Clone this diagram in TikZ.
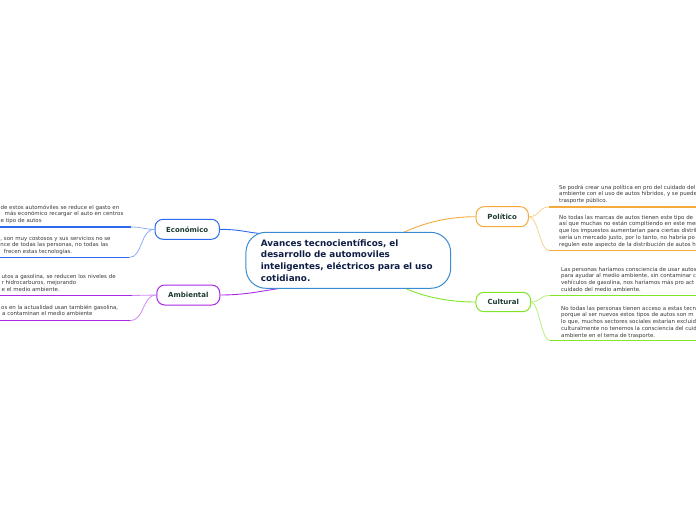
\documentclass[tikz,border=0pt]{standalone}
\usepackage{fontspec}
\newfontfamily\lsans{DejaVu Sans}
\newfontfamily\dvs{DejaVu Sans}
\definecolor{cblue}{RGB}{45,105,240}
\definecolor{ccentral}{RGB}{58,140,210}
\definecolor{cpurple}{RGB}{170,40,230}
\definecolor{corange}{RGB}{245,170,60}
\definecolor{cgreen}{RGB}{130,230,40}
\definecolor{ctopic}{RGB}{30,60,50}
\definecolor{ccentertext}{RGB}{15,30,70}
\definecolor{cgray}{RGB}{55,55,55}
\begin{document}
\begin{tikzpicture}[x=1pt,y=-1pt,
  central/.style={draw=ccentral, line width=1pt, fill=white, rounded corners=20pt,
    minimum width=204.7pt, minimum height=56pt, text width=174.7pt, inner xsep=15pt, inner ysep=0pt,
    align=left, text=ccentertext, font=\dvs\bfseries\fontsize{8.8}{11.6}\selectfont},
  topic/.style={line width=1pt, fill=white, rounded corners=8pt, minimum height=20pt,
    inner sep=0pt, text=ctopic, font=\dvs\bfseries\fontsize{7}{8}\selectfont},
  ptext/.style={anchor=north west, inner sep=0pt, align=left, text=cgray,
    font=\lsans\fontsize{5.45}{6.8}\selectfont},
  conn/.style={line width=0.9pt},
  uline/.style={line width=1.8pt},
  ucurve/.style={line width=0.8pt}
]
\useasboundingbox (0,0) rectangle (696,520);
\clip (0,0) rectangle (696,520);

% connector end points on the central topic
\coordinate (cE) at (262,233.6);
\coordinate (cA) at (280,288.3);
\coordinate (cP) at (401.7,233.3);
\coordinate (cC) at (406.7,289);

% underline end points
\coordinate (e1) at (131,227);   \coordinate (e1L) at (-5,227);
\coordinate (e2) at (129,257.5); \coordinate (e2L) at (-5,257.5);
\coordinate (a1) at (132,295.5); \coordinate (a1L) at (-5,295.5);
\coordinate (a2) at (130,320.5); \coordinate (a2L) at (-5,320.5);
\coordinate (p1) at (549,207);   \coordinate (p1R) at (700,207);
\coordinate (p2) at (549,250.5); \coordinate (p2R) at (700,250.5);
\coordinate (k1) at (550,295.5); \coordinate (k1R) at (700,295.5);
\coordinate (k2) at (550,340.5); \coordinate (k2R) at (700,340.5);

% topic nodes
\node[topic, draw=cblue, minimum width=64.4pt] (eco) at (187.2,229.3) {Económico};
\node[topic, draw=cpurple, minimum width=63pt] (amb) at (188.3,295) {Ambiental};
\node[topic, draw=corange, minimum width=52.3pt] (pol) at (502.2,216.7) {Político};
\node[topic, draw=cgreen, minimum width=54.7pt, minimum height=19.4pt] (cul) at (503.3,302) {Cultural};

% main connectors
\draw[conn, cblue] (eco.east) .. controls (240,229.3) and (250,233) .. (cE);
\draw[conn, cpurple] (amb.east) .. controls (245,295) and (262,291) .. (cA);
\draw[conn, corange] (cP) .. controls (425,222) and (450,216.7) .. (pol.west);
\draw[conn, cgreen] (cC) .. controls (430,299) and (455,302) .. (cul.west);

% central node
\node[central] (c) at (348.3,260.3) {\mbox{Avances tecnocientíficos, el}\\\mbox{desarrollo de automoviles}\\\mbox{inteligentes, eléctricos para el uso}\\\mbox{cotidiano.}};

% subtopic branches
\draw[ucurve, cblue!55] (eco.west) .. controls (143,229.3) and (143,227) .. (e1);
\draw[ucurve, cblue!55] (eco.west) .. controls (140,229.3) and (143,257.5) .. (e2);
\draw[uline, cblue] (e1) -- (e1L);
\draw[uline, cblue] (e2) -- (e2L);

\draw[ucurve, cpurple!55] (amb.west) .. controls (145,295) and (145,295.5) .. (a1);
\draw[ucurve, cpurple!55] (amb.west) .. controls (142,295) and (145,320.5) .. (a2);
\draw[uline, cpurple] (a1) -- (a1L);
\draw[uline, cpurple] (a2) -- (a2L);

\draw[ucurve, corange!55] (pol.east) .. controls (540,216.7) and (538,207) .. (p1);
\draw[ucurve, corange!55] (pol.east) .. controls (538,216.7) and (540,250.5) .. (p2);
\draw[uline, corange] (p1) -- (p1R);
\draw[uline, corange] (p2) -- (p2R);

\draw[ucurve, cgreen!60] (cul.east) .. controls (541,302) and (539,295.5) .. (k1);
\draw[ucurve, cgreen!60] (cul.east) .. controls (539,302) and (541,340.5) .. (k2);
\draw[uline, cgreen] (k1) -- (k1R);
\draw[uline, cgreen] (k2) -- (k2R);

% subtopic texts
\node[ptext] (te1) at (0.5,204.2) {\strut de estos automóviles se reduce el gasto en\\\hspace*{4pt}más económico recargar el auto en centros\\e tipo de autos};
\node[ptext] (te2) at (0.3,235.2) {\strut, son muy costosos y sus servicios no se\\nce de todas las personas, no todas las\\\hspace*{3.5pt}frecen estas tecnologías.};
\node[ptext] (ta1) at (1.5,273.2) {\strut utos a gasolina, se reducen los niveles de\\r hidrocarburos, mejorando\\e el medio ambiente.};
\node[ptext] (ta2) at (1,304.2) {\strut os en la actualidad usan también gasolina,\\\hspace*{1pt}a contaminan el medio ambiente};
\node[ptext] (tp1) at (559,184.2) {\strut Se podrá crear una política en pro del cuidado del\\ambiente con el uso de autos híbridos, y se puede\\trasporte público.};
\node[ptext] (tp2) at (559,214.2) {\strut No todas las marcas de autos tienen este tipo de\\así que muchas no están compitiendo en este mercado\\que los impuestos aumentarían para ciertas distrib\\sería un mercado justo, por lo tanto, no habría po\\regulen este aspecto de la distribución de autos h};
\node[ptext] (tc1) at (561,266.2) {\strut Las personas haríamos consciencia de usar autos\\para ayudar al medio ambiente, sin contaminar c\\vehículos de gasolina, nos haríamos más pro act\\cuidado del medio ambiente.};
\node[ptext] (tc2) at (561,305.2) {\strut No todas las personas tienen acceso a estas tecn\\porque al ser nuevos estos tipos de autos son m\\lo que, muchos sectores sociales estarían excluid\\culturalmente no tenemos la consciencia del cuid\\ambiente en el tema de trasporte.};
\end{tikzpicture}
\end{document}
